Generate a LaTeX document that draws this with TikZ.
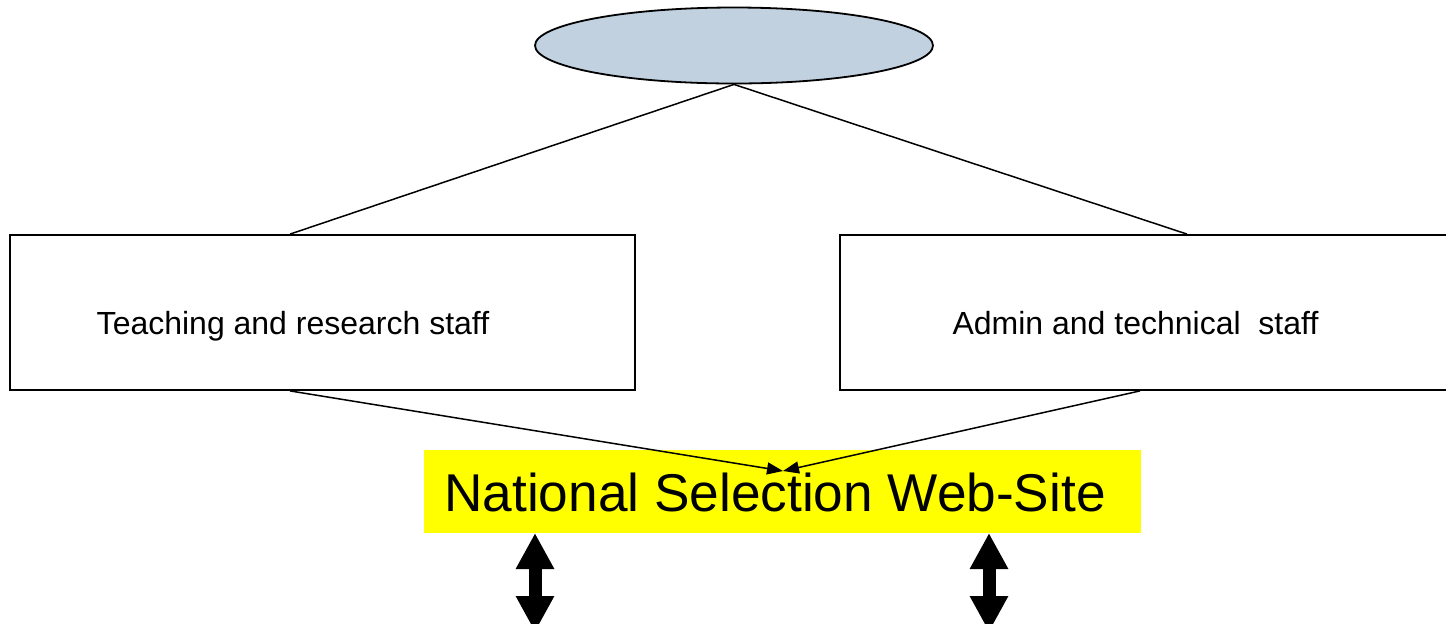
\documentclass[tikz,border=0pt]{standalone}
\usepackage{fontspec}
\setmainfont{Liberation Sans}
\usetikzlibrary{shapes.geometric,arrows.meta}
\definecolor{headfill}{RGB}{193,209,223}
\definecolor{siteyellow}{RGB}{255,255,0}
\tikzset{
  staffbox/.style={draw=black,line width=0.9pt,minimum height=77.5pt,inner sep=0pt},
  link/.style={draw=black,line width=0.75pt},
  feed/.style={link,-{Triangle[length=8pt 0 0,width=6pt 0 0]}},
  twoway/.style={line width=6.5pt,{Triangle[length=18pt 0 0,width=18pt 0 0]}-{Triangle[length=18pt 0 0,width=18pt 0 0]}},
  stafftext/.style={font=\fontsize{16pt}{19pt}\selectfont,inner sep=0pt,anchor=base}
}
\begin{document}
\begin{tikzpicture}[x=0.5pt,y=-0.5pt]
\path[use as bounding box] (0,0) rectangle (1446,623);
\clip (0,0) rectangle (1446,623);

% top of the hierarchy
\node[ellipse,draw=black,line width=0.9pt,fill=headfill,minimum width=199pt,minimum height=38pt,inner sep=0pt] (head) at (734,45.5) {};

% the two staff groups
\node[staffbox,minimum width=312.5pt] (tr) at (322.5,312.5) {};
\node[staffbox,minimum width=306pt] (at) at (1146,312.5) {};
\node[stafftext] (trtext) at (293,334) {Teaching and research staff};
\node[stafftext] (attext) at (1135.5,334) {Admin and technical\ \ staff};

% the web site
\node[fill=siteyellow,minimum width=358.5pt,minimum height=41.5pt,inner sep=0pt] (web) at (782.5,491.5) {};
\node[font=\fontsize{26.6pt}{30pt}\selectfont,inner sep=0pt,anchor=base] (webtext) at (775,511) {National Selection Web-Site};

% hierarchy lines
\draw[link] (head.south) -- ([xshift=-16.25pt]tr.north);
\draw[link] (head.south) -- ([xshift=20.5pt]at.north);

% both groups feed the web site
\coordinate (meet) at (783,471);
\draw[feed] ([xshift=-16.25pt]tr.south) -- (meet);
\draw[feed] ([xshift=-3pt]at.south) -- (meet);

% two-way exchanges below the web site
\coordinate (la1) at (535,533);
\coordinate (la2) at (535,632);
\coordinate (ra1) at (989,533);
\coordinate (ra2) at (989,632);
\draw[twoway] (la1) -- (la2);
\draw[twoway] (ra1) -- (ra2);
\end{tikzpicture}
\end{document}
